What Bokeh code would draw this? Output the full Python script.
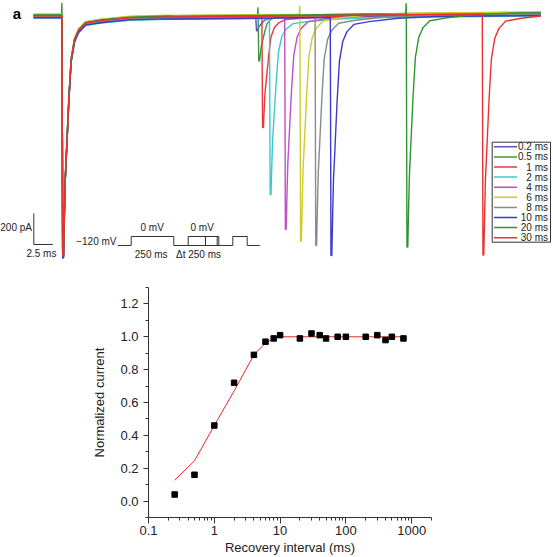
import numpy as np
from bokeh.plotting import figure
from bokeh.layouts import column
from bokeh.models import FixedTicker, CustomJSTickFormatter, Label
from bokeh.core.properties import value
from bokeh.embed import file_html
from bokeh.resources import INLINE

FONT = "Liberation Sans"

# ---------------- panel a : current traces ----------------
trace_labels = ["0.2 ms", "0.5 ms", "1 ms", "2 ms", "4 ms", "6 ms", "8 ms", "10 ms", "20 ms", "30 ms"]
intervals_ms = [0.2, 0.5, 1, 2, 4, 6, 8, 10, 20, 30]
trace_colors = ["#5b4fc4", "#3a9a3a", "#e8383a", "#3ec8c8", "#c04ec8",
                "#cccc2e", "#8a8a8a", "#3b3bc8", "#2e962e", "#ec3030"]
peak1_pA = -1548                      # first (conditioning) pulse peak
peak2_pA = [-84, -297, -716, -1135, -1380, -1464, -1477, -1535, -1503, -1554]
artifact2_pA = [20, 50, 0, 0, 0, 55, 0, 0, 70, 0]   # small capacitive blips at test-pulse onset
artifact1_pA = [0, 75, 0, 0, 0, 0, 0, 0, 0, 0]
base_offset_pA = [-8, 10, 0, -14, 5, 12, -4, -11, 7, 2]
# common current waveform (fraction of peak vs ms after onset)
shape_t = [0, 0.09, 0.2, 0.33, 0.42, 0.6, 0.9, 1.2, 1.65, 2.2, 3.1, 5.1, 8.9, 14]
shape_v = [0, 1.0, 1.0, 0.80, 0.685, 0.56, 0.35, 0.185, 0.10, 0.06, 0.03, 0.019, 0.006, 0]
blip_t = [-0.06, -0.02, 0.02]
blip_v = [0, 1, 0]
drift_t = [0, 15, 63]
drift_pA = [0, -8, 14]
gap_ms = 25.3
t_first, t_last = -3.75, 63.0

# ---------------- panel b : recovery ----------------
rec_x = [0.25, 0.5, 1, 2, 4, 6, 8, 10, 20, 30, 40, 50, 75, 100, 200, 300, 400, 500, 750]
rec_y = [0.04, 0.16, 0.46, 0.72, 0.89, 0.97, 0.99, 1.01, 0.99, 1.02, 1.01, 0.99,
         1.00, 1.00, 1.00, 1.01, 0.98, 1.00, 0.99]
fit_y = [0.127, 0.245, 0.46, 0.67, 0.89, 0.962, 0.99, 1.0, 1.0, 1.0, 1.0, 1.0,
         1.0, 1.0, 1.0, 1.0, 1.0, 1.0, 1.0]
x_ticks = [0.1, 1, 10, 100, 1000]
y_ticks = [0.0, 0.2, 0.4, 0.6, 0.8, 1.0, 1.2]
y_minor = [-0.1, 0.1, 0.3, 0.5, 0.7, 0.9, 1.1, 1.3]

# ---------------- layout ----------------
W, H1, H2 = 553, 272, 285
X0, PXMS = 61.5, 7.6     # pixel position of first pulse onset, px per ms
Y0, PAPX = 15.5, 6.45    # pixel baseline, pA per px


def tx(x):
    return (x - X0) / PXMS


def iy(y):
    return (Y0 - y) * PAPX


top = figure(width=W, height=H1, x_range=(tx(0), tx(W)), y_range=(iy(H1), iy(0)),
             x_axis_type=None, y_axis_type=None, output_backend="svg",
             toolbar_location=None, min_border=0, outline_line_color=None,
             background_fill_color="white", border_fill_color="white")
top.frame_align = False

for i in range(len(intervals_ms)):
    onset2 = gap_ms + intervals_ms[i]
    st = np.array(shape_t)
    bt = np.array(blip_t)
    tt = np.unique(np.concatenate([[t_first], bt, st, onset2 + bt, onset2 + st, drift_t, [t_last]]))
    tt = tt[(tt >= t_first) & (tt <= t_last)]
    vv = (base_offset_pA[i] + np.interp(tt, drift_t, drift_pA)
          + peak1_pA * np.interp(tt, shape_t, shape_v, left=0, right=0)
          + artifact1_pA[i] * np.interp(tt, blip_t, blip_v, left=0, right=0)
          + peak2_pA[i] * np.interp(tt - onset2, shape_t, shape_v, left=0, right=0)
          + artifact2_pA[i] * np.interp(tt - onset2, blip_t, blip_v, left=0, right=0))
    top.line(tt, vv, line_color=trace_colors[i], line_width=1.4)

TXT = "#222222"
# scale bar
sb_x, sb_y = tx(33.3), iy(244)
top.segment(x0=[sb_x, sb_x], y0=[sb_y, sb_y], x1=[sb_x, sb_x + 2.5], y1=[sb_y + 200, sb_y],
            line_color="#333333", line_width=1)
top.text(x=[tx(31.5)], y=[sb_y + 110], text=["200 pA"], text_align="right",
         text_baseline="middle", text_font=value(FONT), text_font_size="10px", text_color=TXT)
top.text(x=[sb_x + 1.0], y=[iy(253)], text=["2.5 ms"], text_align="center",
         text_baseline="middle", text_font=value(FONT), text_font_size="10px", text_color=TXT)

# protocol cartoon
lo, hi = 245, 236
segs = [(117.3, lo, 130.7, lo), (130.7, lo, 130.7, hi), (130.7, hi, 173.3, hi),
        (173.3, hi, 173.3, lo), (173.3, lo, 232.3, lo), (187.7, lo, 187.7, hi),
        (205, lo, 205, hi), (216.7, lo, 216.7, hi), (218.3, lo, 218.3, hi),
        (187.7, hi, 218.3, hi), (232.3, lo, 232.3, hi), (232.3, hi, 246.7, hi),
        (246.7, hi, 246.7, lo), (246.7, lo, 259.3, lo)]
top.segment(x0=[tx(s[0]) for s in segs], y0=[iy(s[1]) for s in segs],
            x1=[tx(s[2]) for s in segs], y1=[iy(s[3]) for s in segs],
            line_color="#333333", line_width=1)
top.text(x=[tx(116)], y=[iy(240.5)], text=["\u2212120 mV"], text_align="right",
         text_baseline="middle", text_font=value(FONT), text_font_size="10px", text_color=TXT)
top.text(x=[tx(151.7), tx(201.7), tx(150.7), tx(198)], y=[iy(227.3), iy(227.3), iy(253.5), iy(253.5)],
         text=["0 mV", "0 mV", "250 ms", "\u0394t 250 ms"], text_align="center",
         text_baseline="middle", text_font=value(FONT), text_font_size="10px", text_color=TXT)

# panel label
top.text(x=[tx(16.5)], y=[iy(13)], text=["a"], text_align="center", text_baseline="middle",
         text_font=value(FONT), text_font_size="15px", text_font_style="bold", text_color="black")

# legend
top.quad(left=[tx(491.7)], right=[tx(550)], top=[iy(141.7)], bottom=[iy(241.7)],
         fill_color="white", line_color="#333333", line_width=1)
rows = [iy(146.3 + 10.1 * i) for i in range(len(trace_labels))]
top.segment(x0=[tx(493.5)] * len(rows), x1=[tx(516.5)] * len(rows), y0=rows, y1=rows,
            line_color=trace_colors, line_width=1.5)
top.text(x=[tx(547.5)] * len(rows), y=rows, text=trace_labels, text_align="right",
         text_baseline="middle", text_font=value(FONT), text_font_size="10px", text_color=TXT)

# ---------------- panel b figure ----------------
bot = figure(width=W, height=H2, x_axis_type="log", x_range=(0.1, 2000), y_range=(-0.1, 1.3),
             output_backend="svg", toolbar_location=None,
             min_border_left=148, min_border_right=122, min_border_top=15, min_border_bottom=40,
             outline_line_color=None, background_fill_color="white", border_fill_color="white")
bot.frame_align = False
bot.grid.visible = False
bot.line(rec_x, fit_y, line_color="#e8291f", line_width=1)
bot.scatter(rec_x, rec_y, marker="square", size=5.5, fill_color="black", line_color="black")

bot.xaxis.ticker = FixedTicker(ticks=x_ticks,
                               minor_ticks=[m * 10.0 ** k for k in range(-1, 4) for m in range(2, 10)])
bot.xaxis.formatter = CustomJSTickFormatter(code="return String(tick)")
bot.yaxis.ticker = FixedTicker(ticks=y_ticks, minor_ticks=y_minor)
bot.yaxis.formatter = CustomJSTickFormatter(code="return tick.toFixed(1)")
bot.xaxis.axis_label = "Recovery interval (ms)"
bot.yaxis.axis_label = "Normalized current"
for ax in (bot.xaxis, bot.yaxis):
    ax.axis_line_color = "#333333"
    ax.major_tick_line_color = "#333333"
    ax.minor_tick_line_color = "#333333"
    ax.major_tick_in = 0
    ax.minor_tick_out = 3
    ax.minor_tick_in = 0
    ax.major_label_text_font = FONT
    ax.major_label_text_font_size = "13px"
    ax.major_label_text_color = TXT
    ax.axis_label_text_font = FONT
    ax.axis_label_text_font_size = "13px"
    ax.axis_label_text_font_style = "normal"
    ax.axis_label_text_color = TXT
bot.xaxis.major_tick_out = 6
bot.yaxis.major_tick_out = 5
bot.xaxis.major_label_standoff = 2
bot.xaxis.axis_label_standoff = 2
bot.yaxis.major_label_standoff = 5
bot.yaxis.axis_label_standoff = 10

bot.add_layout(Label(x=10 ** (-1 + (101 - 148) / 65.8), y=1.245, text="b", text_align="center",
                     text_baseline="middle", text_font=FONT, text_font_size="15px",
                     text_font_style="bold", text_color="black"))

layout = column(top, bot, spacing=0)
open("out.html", "w").write(file_html(layout, INLINE))
